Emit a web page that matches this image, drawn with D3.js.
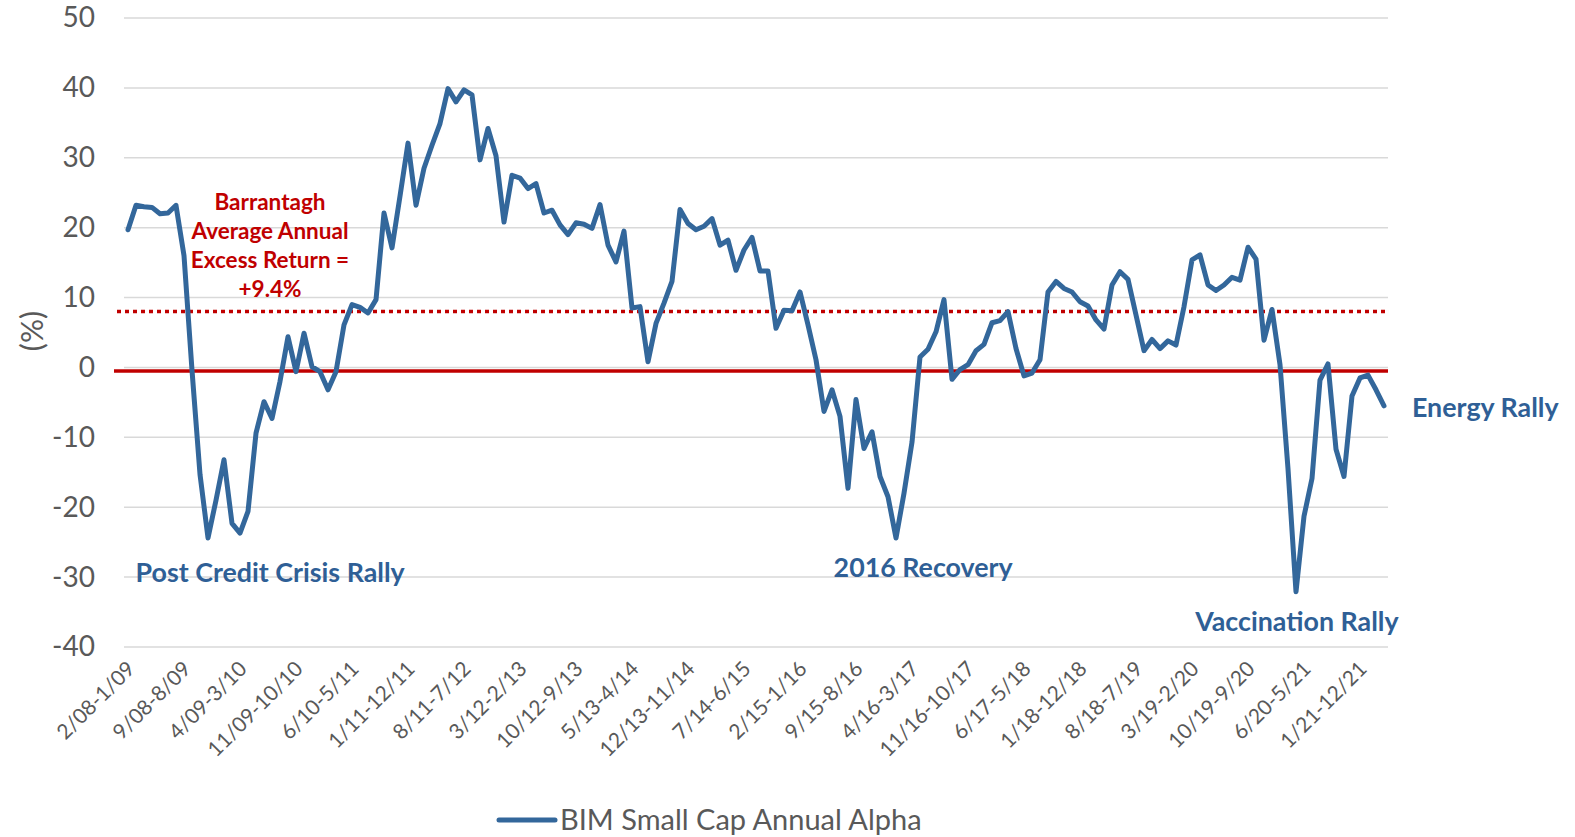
<!DOCTYPE html>
<html>
<head>
<meta charset="utf-8">
<script src="https://cdn.jsdelivr.net/npm/d3@7"></script>
<style>
  body { margin: 0; background: #fff; }
  svg text { font-family: Lato, "Open Sans", sans-serif; }
</style>
</head>
<body>
<div id="chart"></div>
<script>
// monthly rolling 12m alpha
var alpha = [
  19.7, 23.2, 23.0, 22.9, 22.0, 22.1, 23.2, 16.0, -0.4, -15.3,
  -24.4, -19.0, -13.2, -22.3, -23.7, -20.6, -9.4, -4.9, -7.3, -2.0,
  4.4, -0.6, 4.9, 0.1, -0.6, -3.2, -0.6, 6.1, 9.0, 8.6,
  7.8, 9.7, 22.1, 17.1, 24.5, 32.1, 23.2, 28.5, 31.8, 34.9,
  39.9, 38.0, 39.7, 39.0, 29.7, 34.2, 30.3, 20.8, 27.5, 27.1,
  25.6, 26.3, 22.1, 22.5, 20.4, 19.0, 20.7, 20.5, 19.9, 23.3,
  17.5, 15.1, 19.5, 8.5, 8.7, 0.8, 6.3, 9.2, 12.3, 22.6,
  20.6, 19.7, 20.2, 21.3, 17.5, 18.2, 13.9, 16.8, 18.6, 13.8,
  13.8, 5.6, 8.2, 8.1, 10.8, 6.1, 1.1, -6.3, -3.2, -7.0,
  -17.3, -4.6, -11.6, -9.2, -15.6, -18.5, -24.4, -18.0, -10.7, 1.5,
  2.6, 5.1, 9.7, -1.7, -0.3, 0.4, 2.4, 3.3, 6.4, 6.7,
  8.0, 2.7, -1.2, -0.8, 1.1, 10.8, 12.3, 11.3, 10.8, 9.4,
  8.8, 6.8, 5.5, 11.8, 13.7, 12.6, 7.5, 2.4, 4.0, 2.7,
  3.8, 3.2, 8.7, 15.4, 16.1, 11.8, 11.0, 11.8, 12.9, 12.5,
  17.2, 15.5, 3.9, 8.3, 0.4, -14.5, -32.1, -21.3, -15.9, -1.8,
  0.5, -11.7, -15.6, -4.1, -1.5, -1.1, -3.2, -5.5
];

// every 7th period gets a label
var tickLabels = [
  "2/08-1/09", "9/08-8/09", "4/09-3/10", "11/09-10/10", "6/10-5/11",
  "1/11-12/11", "8/11-7/12", "3/12-2/13", "10/12-9/13", "5/13-4/14",
  "12/13-11/14", "7/14-6/15", "2/15-1/16", "9/15-8/16", "4/16-3/17",
  "11/16-10/17", "6/17-5/18", "1/18-12/18", "8/18-7/19", "3/19-2/20",
  "10/19-9/20", "6/20-5/21", "1/21-12/21"
];
var tickStep = 7;

var yTicks = [50, 40, 30, 20, 10, 0, -10, -20, -30, -40];
var zeroLine = -0.5;     // red solid line
var averageLine = 8.0;   // red dotted line (as drawn)

var averageText = ["Barrantagh", "Average Annual", "Excess Return =", "+9.4%"];
var rallies = [
  {label: "Post Credit Crisis Rally", idx: 0.95, value: -29.3},
  {label: "2016 Recovery", idx: 88.2, value: -28.6},
  {label: "Vaccination Rally", idx: 133.4, value: -36.3},
  {label: "Energy Rally", idx: 160.5, value: -5.8}
];
var seriesName = "BIM Small Cap Annual Alpha";

var W = 1575, H = 837;
var margin = {top: 18, right: 187, bottom: 190, left: 124};
var blue = "#33679b", red = "#c00000", grey = "#595959";

var svg = d3.select("#chart").append("svg")
    .attr("width", W)
    .attr("height", H);

var idx = d3.range(alpha.length);
var x = d3.scalePoint()
    .domain(idx)
    .range([margin.left, W - margin.right])
    .padding(0.5);
var step = x.step();
var xPos = function(i) { return x(0) + i * step; };

var y = d3.scaleLinear()
    .domain([-40, 50])
    .range([H - margin.bottom, margin.top]);

// gridlines
svg.append("g")
    .selectAll("line")
    .data(yTicks)
    .enter().append("line")
    .attr("x1", margin.left)
    .attr("x2", W - margin.right)
    .attr("y1", function(d) { return y(d); })
    .attr("y2", function(d) { return y(d); })
    .attr("stroke", "#d9d9d9")
    .attr("stroke-width", 1.5);

// y axis labels
var yAxis = d3.axisLeft(y)
    .tickValues(yTicks)
    .tickSize(0)
    .tickPadding(29)
    .tickFormat(function(d) { return String(d); });
var ya = svg.append("g")
    .attr("transform", "translate(" + margin.left + ",0)")
    .call(yAxis);
ya.select(".domain").remove();
ya.selectAll("text")
    .attr("fill", grey)
    .style("font-size", "28px");

svg.append("text")
    .attr("transform", "translate(32," + y(5.2) + ") rotate(-90)")
    .attr("text-anchor", "middle")
    .attr("dy", "0.35em")
    .attr("fill", grey)
    .style("font-size", "30px")
    .text("(%)");

// x axis labels
var xa = svg.append("g");
xa.selectAll("text")
    .data(tickLabels)
    .enter().append("text")
    .attr("transform", function(d, k) {
        return "translate(" + (xPos(k * tickStep) + 3) + "," + (H - margin.bottom + 18) + ") rotate(-45)";
    })
    .attr("text-anchor", "end")
    .attr("dy", "0.35em")
    .attr("fill", grey)
    .style("font-size", "21px")
    .text(function(d) { return d; });

// reference lines
svg.append("line")
    .attr("x1", margin.left - 10)
    .attr("x2", W - margin.right)
    .attr("y1", y(zeroLine))
    .attr("y2", y(zeroLine))
    .attr("stroke", red)
    .attr("stroke-width", 3.5);

svg.append("line")
    .attr("x1", margin.left - 7)
    .attr("x2", W - margin.right)
    .attr("y1", y(averageLine))
    .attr("y2", y(averageLine))
    .attr("stroke", red)
    .attr("stroke-width", 3.5)
    .attr("stroke-dasharray", "4,4");

// the series
var line = d3.line()
    .x(function(d, i) { return xPos(i); })
    .y(function(d) { return y(d); });

svg.append("path")
    .datum(alpha)
    .attr("d", line)
    .attr("fill", "none")
    .attr("stroke", blue)
    .attr("stroke-width", 5)
    .attr("stroke-linejoin", "round")
    .attr("stroke-linecap", "round");

// annotations
svg.append("g")
    .selectAll("text")
    .data(averageText)
    .enter().append("text")
    .attr("x", xPos(17.75))
    .attr("y", function(d, k) { return y(23.7) + k * 29; })
    .attr("text-anchor", "middle")
    .attr("dy", "0.35em")
    .attr("fill", red)
    .style("font-size", "22.5px")
    .style("font-weight", "bold")
    .text(function(d) { return d; });

svg.append("g")
    .selectAll("text")
    .data(rallies)
    .enter().append("text")
    .attr("x", function(d) { return xPos(d.idx); })
    .attr("y", function(d) { return y(d.value); })
    .attr("dy", "0.35em")
    .attr("fill", "#2f5f96")
    .style("font-size", "26.8px")
    .style("font-weight", "bold")
    .text(function(d) { return d.label; });

// legend
var lg = svg.append("g").attr("transform", "translate(499,820)");
lg.append("line")
    .attr("x1", 0).attr("x2", 56)
    .attr("stroke", blue)
    .attr("stroke-width", 5)
    .attr("stroke-linecap", "round");
lg.append("text")
    .attr("x", 61)
    .attr("dy", "0.35em")
    .attr("fill", grey)
    .style("font-size", "29px")
    .text(seriesName);
</script>
</body>
</html>
